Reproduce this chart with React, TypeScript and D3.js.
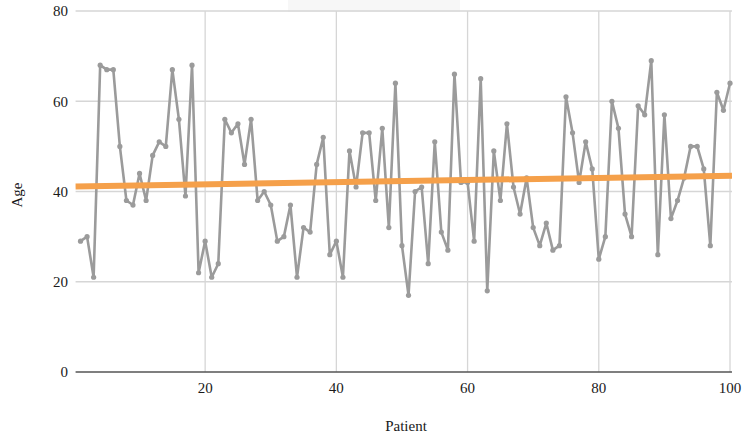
import React from "react";
import * as d3 from "d3";

const patients: number[] = d3.range(1, 101);
const ages: number[] = [
  29, 30, 21, 68, 67, 67, 50, 38, 37, 44,
  38, 48, 51, 50, 67, 56, 39, 68, 22, 29,
  21, 24, 56, 53, 55, 46, 56, 38, 40, 37,
  29, 30, 37, 21, 32, 31, 46, 52, 26, 29,
  21, 49, 41, 53, 53, 38, 54, 32, 64, 28,
  17, 40, 41, 24, 51, 31, 27, 66, 42, 42,
  29, 65, 18, 49, 38, 55, 41, 35, 43, 32,
  28, 33, 27, 28, 61, 53, 42, 51, 45, 25,
  30, 60, 54, 35, 30, 59, 57, 69, 26, 57,
  34, 38, 43, 50, 50, 45, 28, 62, 58, 64,
];
const trendX: number[] = [0.25, 100.3];
const trendY: number[] = [41.1, 43.5];
const xTicks: number[] = [20, 40, 60, 80, 100];
const yTicks: number[] = [0, 20, 40, 60, 80];

export default function App() {
  const W = 750, H = 437;
  const x = d3.scaleLinear().domain([1, 100]).range([80.5, 730]);
  const y = d3.scaleLinear().domain([0, 80]).range([372, 11]);
  const left = x(0.25), right = x(100.3);
  const line = d3.line<number>().x((_, i) => x(patients[i])).y((d) => y(d));
  const trend = d3.line<number>().x((_, i) => x(trendX[i])).y((d) => y(d));
  const font = "'Liberation Serif', 'Times New Roman', serif";
  return (
    <svg width={W} height={H} style={{ position: "absolute", left: 0, top: 0, background: "#fff" }} fontFamily={font}>
      <rect x={288} y={0} width={172} height={12} fill="#f7f7f7" />
      {yTicks.filter((t) => t > 0).map((t) => (
        <line key={"gy" + t} x1={left} x2={right} y1={y(t)} y2={y(t)} stroke="#d6d6d6" strokeWidth={1.3} />
      ))}
      {xTicks.map((t) => (
        <line key={"gx" + t} x1={x(t)} x2={x(t)} y1={y(80)} y2={y(0)} stroke="#d6d6d6" strokeWidth={1.3} />
      ))}
      <line x1={left} x2={right} y1={y(0)} y2={y(0)} stroke="#555" strokeWidth={1.5} />
      {yTicks.map((t) => (
        <text key={"ty" + t} x={68} y={y(t)} dy="0.35em" textAnchor="end" fontSize={15} fill="#1a1a1a">{t}</text>
      ))}
      {xTicks.map((t) => (
        <text key={"tx" + t} x={x(t)} y={393} textAnchor="middle" fontSize={15} fill="#1a1a1a">{t}</text>
      ))}
      <path d={line(ages) || ""} fill="none" stroke="#9b9b9b" strokeWidth={2.6} strokeLinejoin="round" />
      {ages.map((a, i) => (
        <circle key={"p" + i} cx={x(patients[i])} cy={y(a)} r={2.6} fill="#9b9b9b" />
      ))}
      <path d={trend(trendY) || ""} fill="none" stroke="#f5a04a" strokeWidth={6} />
      <text x={406} y={431} textAnchor="middle" fontSize={15} fill="#1a1a1a">Patient</text>
      <text transform={`translate(22,${195}) rotate(-90)`} textAnchor="middle" fontSize={15} fill="#1a1a1a">Age</text>
    </svg>
  );
}
